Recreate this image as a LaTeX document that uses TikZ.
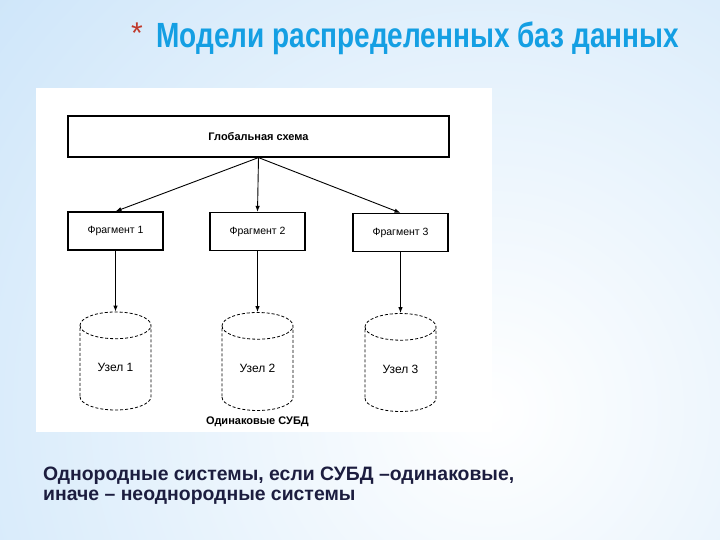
\documentclass[tikz,border=0pt]{standalone}
\usepackage{fontspec}
\setmainfont{Liberation Sans}
\newfontfamily\titlefont[FakeStretch=0.8]{Liberation Sans}
\usetikzlibrary{arrows.meta,positioning,shapes.geometric}
\definecolor{bgblue}{HTML}{C3E0F8}
\definecolor{titleblue}{HTML}{149FE3}
\definecolor{starred}{HTML}{C0392B}
\definecolor{noteink}{HTML}{1C1D3F}

\begin{document}
\begin{tikzpicture}[x=1pt,y=-1pt,>=Latex,node distance=61pt,
  frag/.style={draw,line width=1.2pt,minimum width=95pt,minimum height=38pt,inner sep=0pt,font=\fontsize{10.5}{12}\selectfont},
  db/.style={cylinder,shape border rotate=90,draw,dash pattern=on 3pt off 2pt,line width=0.8pt,aspect=0.75,minimum width=71pt,minimum height=98pt,inner sep=0pt,font=\fontsize{12}{14}\selectfont},
  arr/.style={-{Latex[length=6pt,width=4.5pt]},line width=0.9pt}]
% slide background
\useasboundingbox (0,0) rectangle (720,540);
\fill[bgblue] (0,0) rectangle (720,540);
\begin{scope}
  \clip (0,0) rectangle (720,540);
  \shade[inner color=white,outer color=bgblue] (490,410) circle (800);
\end{scope}
\node[anchor=base west,inner sep=0pt,text=starred,font=\fontsize{30}{32}\selectfont] (star) at (131,44) {*};
\node[anchor=base west,inner sep=0pt,text=titleblue,font=\titlefont\bfseries\fontsize{35}{40}\selectfont] (title) at (156,48) {Модели распределенных баз данных};
% scanned figure
\fill[white] (36,88) rectangle (492,432);
\node[frag,minimum width=381pt,minimum height=41pt,font=\bfseries\fontsize{11}{13}\selectfont] (glob) at (258.5,136.5) {Глобальная схема};
\node[frag] (f1) at (115.5,231) {Фрагмент 1};
\node[frag] (f2) at (257.5,231.5) {Фрагмент 2};
\node[frag] (f3) at (400.5,232.5) {Фрагмент 3};
\node[db,below=of f1] (n1) {Узел 1};
\node[db,below=of f2] (n2) {Узел 2};
\node[db,below=of f3] (n3) {Узел 3};
\draw[arr] (glob.south) -- (f1.north);
\draw[arr] (glob.south) -- (f2.north);
\draw[arr] (glob.south) -- (f3.north);
\draw[arr] (f1.south) -- (n1.top);
\draw[arr] (f2.south) -- (n2.top);
\draw[arr] (f3.south) -- (n3.top);
\node[below=2pt of n2,font=\bfseries\fontsize{11}{13}\selectfont] (same) {Одинаковые СУБД};
% note under the figure
\node[anchor=north west,align=left,inner sep=0pt,text=noteink,font=\bfseries\fontsize{19.4}{20}\selectfont] (note) at (43,467) {Однородные системы, если СУБД –одинаковые,\\иначе – неоднородные системы};
\end{tikzpicture}
\end{document}
